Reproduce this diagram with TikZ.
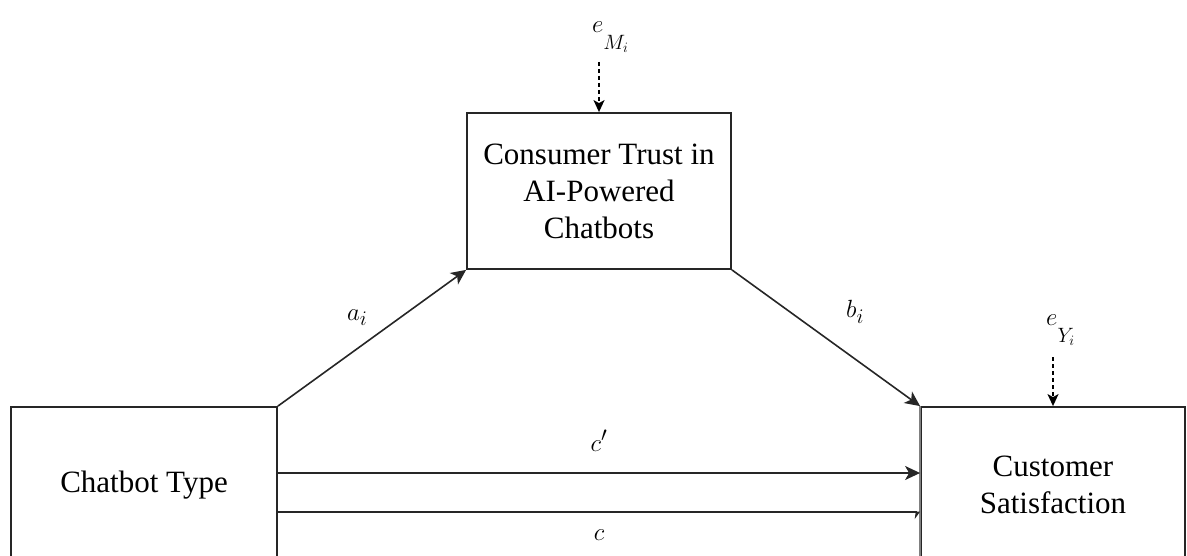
\documentclass[tikz,border=0pt]{standalone}
\usepackage{fontspec}
\setmainfont{Liberation Serif}
\usetikzlibrary{arrows.meta}
\begin{document}
\begin{tikzpicture}[x=1pt,y=-1pt,
  box/.style={draw=black!85, line width=1.8pt, minimum width=264pt, minimum height=156pt,
    inner sep=0pt, align=center, font=\fontsize{31}{37}\selectfont},
  arr/.style={draw=black!85, line width=1.6pt, -{Stealth[length=15pt,width=14pt,inset=4pt]}},
  halfarr/.style={draw=black!85, line width=1.6pt, -{Stealth[harpoon,swap,length=5pt,width=14pt,inset=1pt]}},
  darr/.style={draw=black, line width=1.6pt, dash pattern=on 4pt off 3pt,
    -{Stealth[length=12pt,width=11pt,inset=3pt]}},
  lab/.style={font=\fontsize{30}{32}\selectfont, inner sep=0pt, anchor=base west},
  clab/.style={font=\fontsize{30}{32}\selectfont, inner sep=0pt, anchor=base}]
\useasboundingbox (0,0) rectangle (1187,556);
\clip (0,0) rectangle (1187,556);

\node[box, minimum width=266pt] (left) at (144,485) {Chatbot Type};
\node[box] (mid) at (599,191) {Consumer Trust in\\AI-Powered\\Chatbots};
\node[box] (right) at (1053,485) {Customer\\Satisfaction};
\draw[black!50, line width=2.5pt] (right.north west) -- (right.south west);

\draw[arr] (left.north east) -- (mid.south west);
\draw[arr] (mid.south east) -- (right.north west);
\draw[arr] ([yshift=12pt]left.east) -- ([yshift=12pt]right.west);
\draw[halfarr] ([yshift=-27pt]left.east) -- ([yshift=-27pt]right.west);

\node[lab] (a) at (347,320) {$a_i$};
\node[lab] (b) at (846,318) {$b_i$};
\node[clab] (cp) at (599,451) {$c'$};
\node[clab] (c) at (599,540) {$c$};

\node[lab] (eM) at (592,33) {$e_{\raisebox{-13pt}{$\scriptstyle M_i$}}$};
\node[lab] (eY) at (1046,326) {$e_{\raisebox{-13pt}{$\scriptstyle Y_i$}}$};
\coordinate (eMs) at (599,62);
\coordinate (eYs) at (1053,357);
\draw[darr] (eMs) -- (mid.north);
\draw[darr] (eYs) -- (right.north);
\end{tikzpicture}
\end{document}
